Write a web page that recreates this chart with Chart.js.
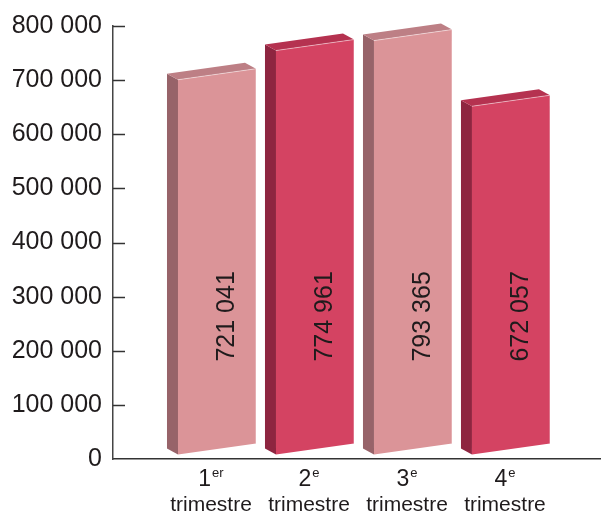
<!DOCTYPE html>
<html lang="fr">
<head>
<meta charset="utf-8">
<title>Trimestres</title>
<script src="https://cdn.jsdelivr.net/npm/chart.js@4.4.1/dist/chart.umd.min.js"></script>
<style>
  html, body { margin: 0; padding: 0; background: #fff; }
  #wrap { width: 601px; height: 513px; }
</style>
</head>
<body>
<div id="wrap"><canvas id="chart" width="601" height="513"></canvas></div>
<script>
// Data
const quarterNumbers = ['1', '2', '3', '4'];
const quarterSuffixes = ['er', 'e', 'e', 'e'];
const quarterWord = 'trimestre';
const values = [721041, 774961, 793365, 672057];
const yTicks = [0, 100000, 200000, 300000, 400000, 500000, 600000, 700000, 800000];

const FONT = '"Liberation Sans", Arial, Helvetica, sans-serif';
const TEXT = '#1f1b1c';

// front / side / top colours, light and dark bars alternate
const faces = [
  { front: '#db9498', side: '#976369', top: '#bd7f85' },
  { front: '#d44362', side: '#8e2540', top: '#b53250' }
];

function fmt(v) {
  return String(v).replace(/\B(?=(\d{3})+(?!\d))/g, ' ');
}

function poly(ctx, pts, fill) {
  ctx.beginPath();
  ctx.moveTo(pts[0][0], pts[0][1]);
  for (let i = 1; i < pts.length; i++) ctx.lineTo(pts[i][0], pts[i][1]);
  ctx.closePath();
  ctx.fillStyle = fill;
  ctx.fill();
}

// Draws each bar as a little slanted prism, from the bar element positions
const prismBars = {
  id: 'prismBars',
  beforeDatasetsDraw(chart) {
    const ctx = chart.ctx;
    const meta = chart.getDatasetMeta(0);
    const yScale = chart.scales.y;
    ctx.save();
    meta.data.forEach((el, i) => {
      const c = faces[i % 2];
      const cx = el.x, ty = el.y, base = el.base;
      const tl = [cx - 33, ty + 11], tr = [cx + 45, ty];
      const bl = [cx - 33, base - 4], br = [cx + 45, base - 15];
      const dx = -11, dy = -6;
      const back = p => [p[0] + dx, p[1] + dy];

      poly(ctx, [back(tl), tl, bl, back(bl)], c.side);
      poly(ctx, [back(tl), back(tr), tr, tl], c.top);
      poly(ctx, [tl, tr, br, bl], c.front);

      // light edge between top and front
      ctx.strokeStyle = 'rgba(255,255,255,0.45)';
      ctx.lineWidth = 1;
      ctx.beginPath();
      ctx.moveTo(tl[0], tl[1]);
      ctx.lineTo(tr[0], tr[1]);
      ctx.lineTo(br[0], br[1]);
      ctx.stroke();

      // value written upwards inside the bar
      ctx.save();
      ctx.translate(cx + 23, yScale.getPixelForValue(180000));
      ctx.rotate(-Math.PI / 2);
      ctx.font = '25px ' + FONT;
      ctx.fillStyle = TEXT;
      ctx.textAlign = 'left';
      ctx.textBaseline = 'alphabetic';
      ctx.fillText(fmt(values[i]), 0, 0);
      ctx.restore();
    });
    ctx.restore();
    return false;
  }
};

// Inward tick marks and the two-line quarter labels
const axisExtras = {
  id: 'axisExtras',
  afterDraw(chart) {
    const ctx = chart.ctx;
    const y = chart.scales.y, x = chart.scales.x;
    ctx.save();
    ctx.strokeStyle = '#333';
    ctx.lineWidth = 1.5;
    y.ticks.forEach(t => {
      if (t.value === 0) return;
      const py = Math.round(y.getPixelForValue(t.value)) + 0.5;
      ctx.beginPath();
      ctx.moveTo(y.right, py);
      ctx.lineTo(y.right + 12, py);
      ctx.stroke();
    });

    ctx.fillStyle = TEXT;
    ctx.textBaseline = 'alphabetic';
    ctx.textAlign = 'left';
    quarterNumbers.forEach((n, i) => {
      const px = x.getPixelForValue(i + 1);
      ctx.font = '23px ' + FONT;
      const wn = ctx.measureText(n).width;
      ctx.font = '13px ' + FONT;
      const ws = ctx.measureText(quarterSuffixes[i]).width;
      const start = px - (wn + 1 + ws) / 2;
      ctx.font = '23px ' + FONT;
      ctx.fillText(n, start, 486);
      ctx.font = '13px ' + FONT;
      ctx.fillText(quarterSuffixes[i], start + wn + 1, 477);
      ctx.font = '21px ' + FONT;
      ctx.textAlign = 'center';
      ctx.fillText(quarterWord, px, 511);
      ctx.textAlign = 'left';
    });
    ctx.restore();
  }
};

new Chart(document.getElementById('chart'), {
  type: 'bar',
  data: {
    datasets: [{
      data: values.map((v, i) => ({ x: i + 1, y: v })),
      backgroundColor: faces.map(f => f.front)
    }]
  },
  options: {
    responsive: false,
    animation: false,
    events: [],
    layout: { padding: { top: 22, left: 0, right: 0, bottom: 0 } },
    plugins: { legend: { display: false }, tooltip: { enabled: false } },
    scales: {
      x: {
        type: 'linear',
        offset: false,
        min: 0,
        max: 4.98,
        ticks: { display: false },
        grid: { display: false, drawTicks: false, offset: false },
        border: { display: true, color: '#333', width: 1.5 },
        afterFit: s => { s.height = 54; }
      },
      y: {
        min: 0,
        max: 800000,
        afterBuildTicks: s => { s.ticks = yTicks.map(v => ({ value: v })); },
        ticks: {
          padding: 11,
          color: TEXT,
          font: { family: FONT, size: 25 },
          callback: v => fmt(v)
        },
        grid: { drawOnChartArea: false, drawTicks: false },
        border: { display: true, color: '#444', width: 1.5 },
        afterFit: s => { s.width = 113; }
      }
    }
  },
  plugins: [prismBars, axisExtras]
});
</script>
</body>
</html>
